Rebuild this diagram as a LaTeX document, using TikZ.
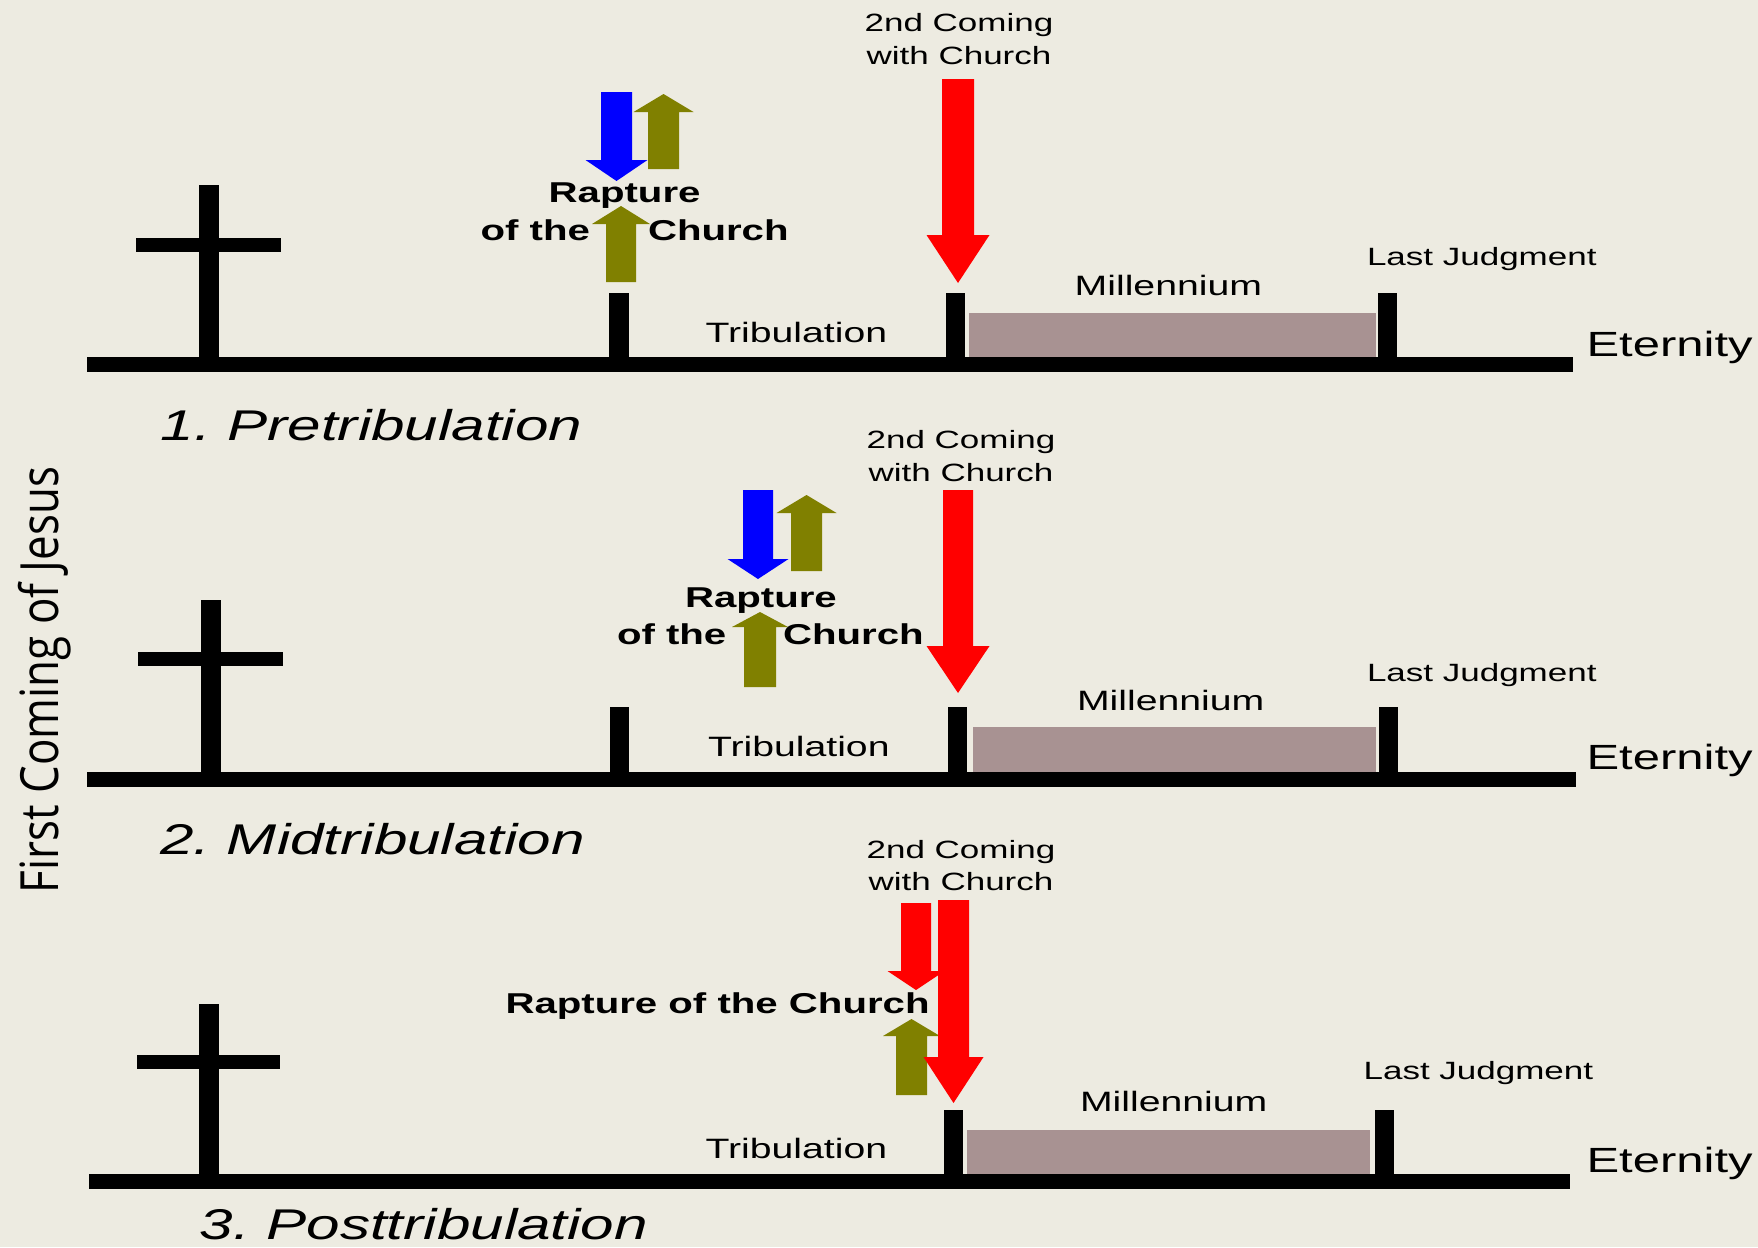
\documentclass[tikz,border=0pt]{standalone}
\usepackage{fontspec}
\setmainfont{Liberation Sans}
\newfontfamily\osfont{Open Sans}
\usepackage{graphicx}
\definecolor{bg}{RGB}{237,235,225}
\definecolor{olivearr}{RGB}{128,128,0}
\definecolor{mill}{RGB}{168,146,146}
\definecolor{bluearr}{RGB}{0,0,255}
\definecolor{redarr}{RGB}{255,0,0}
\newcommand\wide[1]{\scalebox{1.4}[1]{#1}}
% color, centre x, half shaft, half head, tail y, head base y, tip y
\newcommand\blockarr[7]{\fill[#1] ({#2-#3},#5) -- ({#2-#3},#6) -- ({#2-#4},#6) -- (#2,#7) -- ({#2+#4},#6) -- ({#2+#3},#6) -- ({#2+#3},#5) -- cycle;}
\newcommand\solidrect[4]{\fill[black] (#1,#2) rectangle (#3,#4);}
\tikzset{
  lbl/.style={inner sep=0pt, outer sep=0pt, text=black},
  small/.style={lbl, font=\fontsize{25}{30}\selectfont},
  mid/.style={lbl, font=\fontsize{28}{32}\selectfont},
  rapt/.style={lbl, font=\fontsize{28.7}{33}\selectfont\bfseries},
  eter/.style={lbl, font=\fontsize{35}{40}\selectfont},
  ttl/.style={lbl, font=\fontsize{43}{50}\selectfont\itshape},
}
\begin{document}
\begin{tikzpicture}[x=1pt,y=-1pt]
\fill[bg] (0,0) rectangle (1758,1247);
\useasboundingbox (0,0) rectangle (1758,1247);

% ---------------- Panel 1 ----------------
\solidrect{87}{357}{1573}{372}
\solidrect{199}{185}{219}{360}
\solidrect{136}{238}{281}{252}
\solidrect{609}{293}{629}{360}
\solidrect{946}{293}{965}{360}
\fill[mill] (969,313) rectangle (1376,357);
\solidrect{1378}{293}{1397}{360}
\blockarr{redarr}{958}{16}{31.5}{79}{235}{283}
\blockarr{olivearr}{663.5}{15.5}{30}{169}{112}{94}
\blockarr{bluearr}{616.5}{15.5}{31}{92}{160}{181}
\blockarr{olivearr}{621}{15}{29}{282}{224}{206}

\node[small, anchor=base] (coming1a) at (959,32) {\wide{2nd Coming}};
\node[small, anchor=base] (coming1b) at (959,64) {\wide{with Church}};
\node[small, anchor=base west] (lj1) at (1367,265) {\wide{Last Judgment}};
\node[mid, anchor=base west] (mil1) at (1074.7,295) {\wide{Millennium}};
\node[mid, anchor=base west] (trib1) at (705.6,342.7) {\wide{Tribulation}};
\node[eter, anchor=base west] (et1) at (1586.5,356.7) {\wide{Eternity}};
\node[rapt, anchor=base west] (rap1) at (548.7,202) {\wide{Rapture}};
\node[rapt, anchor=base west] (ofthe1) at (480.6,240) {\wide{of the}};
\node[rapt, anchor=base west] (church1) at (648,240) {\wide{Church}};
\node[ttl, anchor=base west] (title1) at (160.7,440) {\wide{1.\kern-4pt{} Pretribulation}};

% ---------------- Panel 2 ----------------
\solidrect{87}{772}{1576}{787}
\solidrect{201}{600}{221}{775}
\solidrect{138}{652}{283}{666}
\solidrect{610}{707}{629}{775}
\solidrect{948}{707}{967}{775}
\fill[mill] (973,727) rectangle (1376,772);
\solidrect{1379}{707}{1398}{775}
\blockarr{redarr}{958}{15}{31.5}{490}{646}{693}
\blockarr{olivearr}{806.5}{15.5}{30}{571}{513}{495}
\blockarr{bluearr}{758}{15}{30.5}{490}{559}{579}
\blockarr{olivearr}{760}{16}{28}{687}{627}{612}

\node[small, anchor=base] (coming2a) at (961,448.5) {\wide{2nd Coming}};
\node[small, anchor=base] (coming2b) at (961,481) {\wide{with Church}};
\node[small, anchor=base west] (lj2) at (1367,681) {\wide{Last Judgment}};
\node[mid, anchor=base west] (mil2) at (1077,710) {\wide{Millennium}};
\node[mid, anchor=base west] (trib2) at (708,756.7) {\wide{Tribulation}};
\node[eter, anchor=base west] (et2) at (1586.5,769) {\wide{Eternity}};
\node[rapt, anchor=base west] (rap2) at (685,607) {\wide{Rapture}};
\node[rapt, anchor=base west] (ofthe2) at (617,644) {\wide{of the}};
\node[rapt, anchor=base west] (church2) at (783,644) {\wide{Church}};
\node[ttl, anchor=base west] (title2) at (160,854) {\wide{2.\kern-4pt{} Midtribulation}};

% ---------------- Panel 3 ----------------
\solidrect{89}{1174}{1570}{1189}
\solidrect{199}{1003.5}{219}{1177}
\solidrect{137}{1055}{280}{1069}
\solidrect{944}{1110}{963}{1177}
\fill[mill] (967,1130) rectangle (1370,1174);
\solidrect{1375}{1110}{1394}{1177}
\blockarr{olivearr}{911.5}{15.5}{28.5}{1095}{1036}{1019}
\blockarr{redarr}{916}{15}{28.5}{903}{971}{990}
\blockarr{redarr}{953.5}{15.5}{30}{900}{1057}{1103}

\node[small, anchor=base] (coming3a) at (961,858) {\wide{2nd Coming}};
\node[small, anchor=base] (coming3b) at (961,890) {\wide{with Church}};
\node[small, anchor=base west] (lj3) at (1363.6,1079) {\wide{Last Judgment}};
\node[mid, anchor=base west] (mil3) at (1080,1111) {\wide{Millennium}};
\node[mid, anchor=base west] (trib3) at (705.6,1158) {\wide{Tribulation}};
\node[eter, anchor=base west] (et3) at (1586.5,1172) {\wide{Eternity}};
\node[rapt, anchor=base west] (rap3) at (505.5,1013) {\wide{Rapture of the Church}};
\node[ttl, anchor=base west] (title3) at (199.6,1239) {\wide{3.\kern-4pt{} Posttribulation}};

% ---------------- vertical label ----------------
\node[lbl, rotate=90, anchor=base] (first) at (58,680) {\resizebox{426pt}{!}{\scalebox{1}[1.2]{\osfont First Coming of Jesus}}};
\end{tikzpicture}
\end{document}
